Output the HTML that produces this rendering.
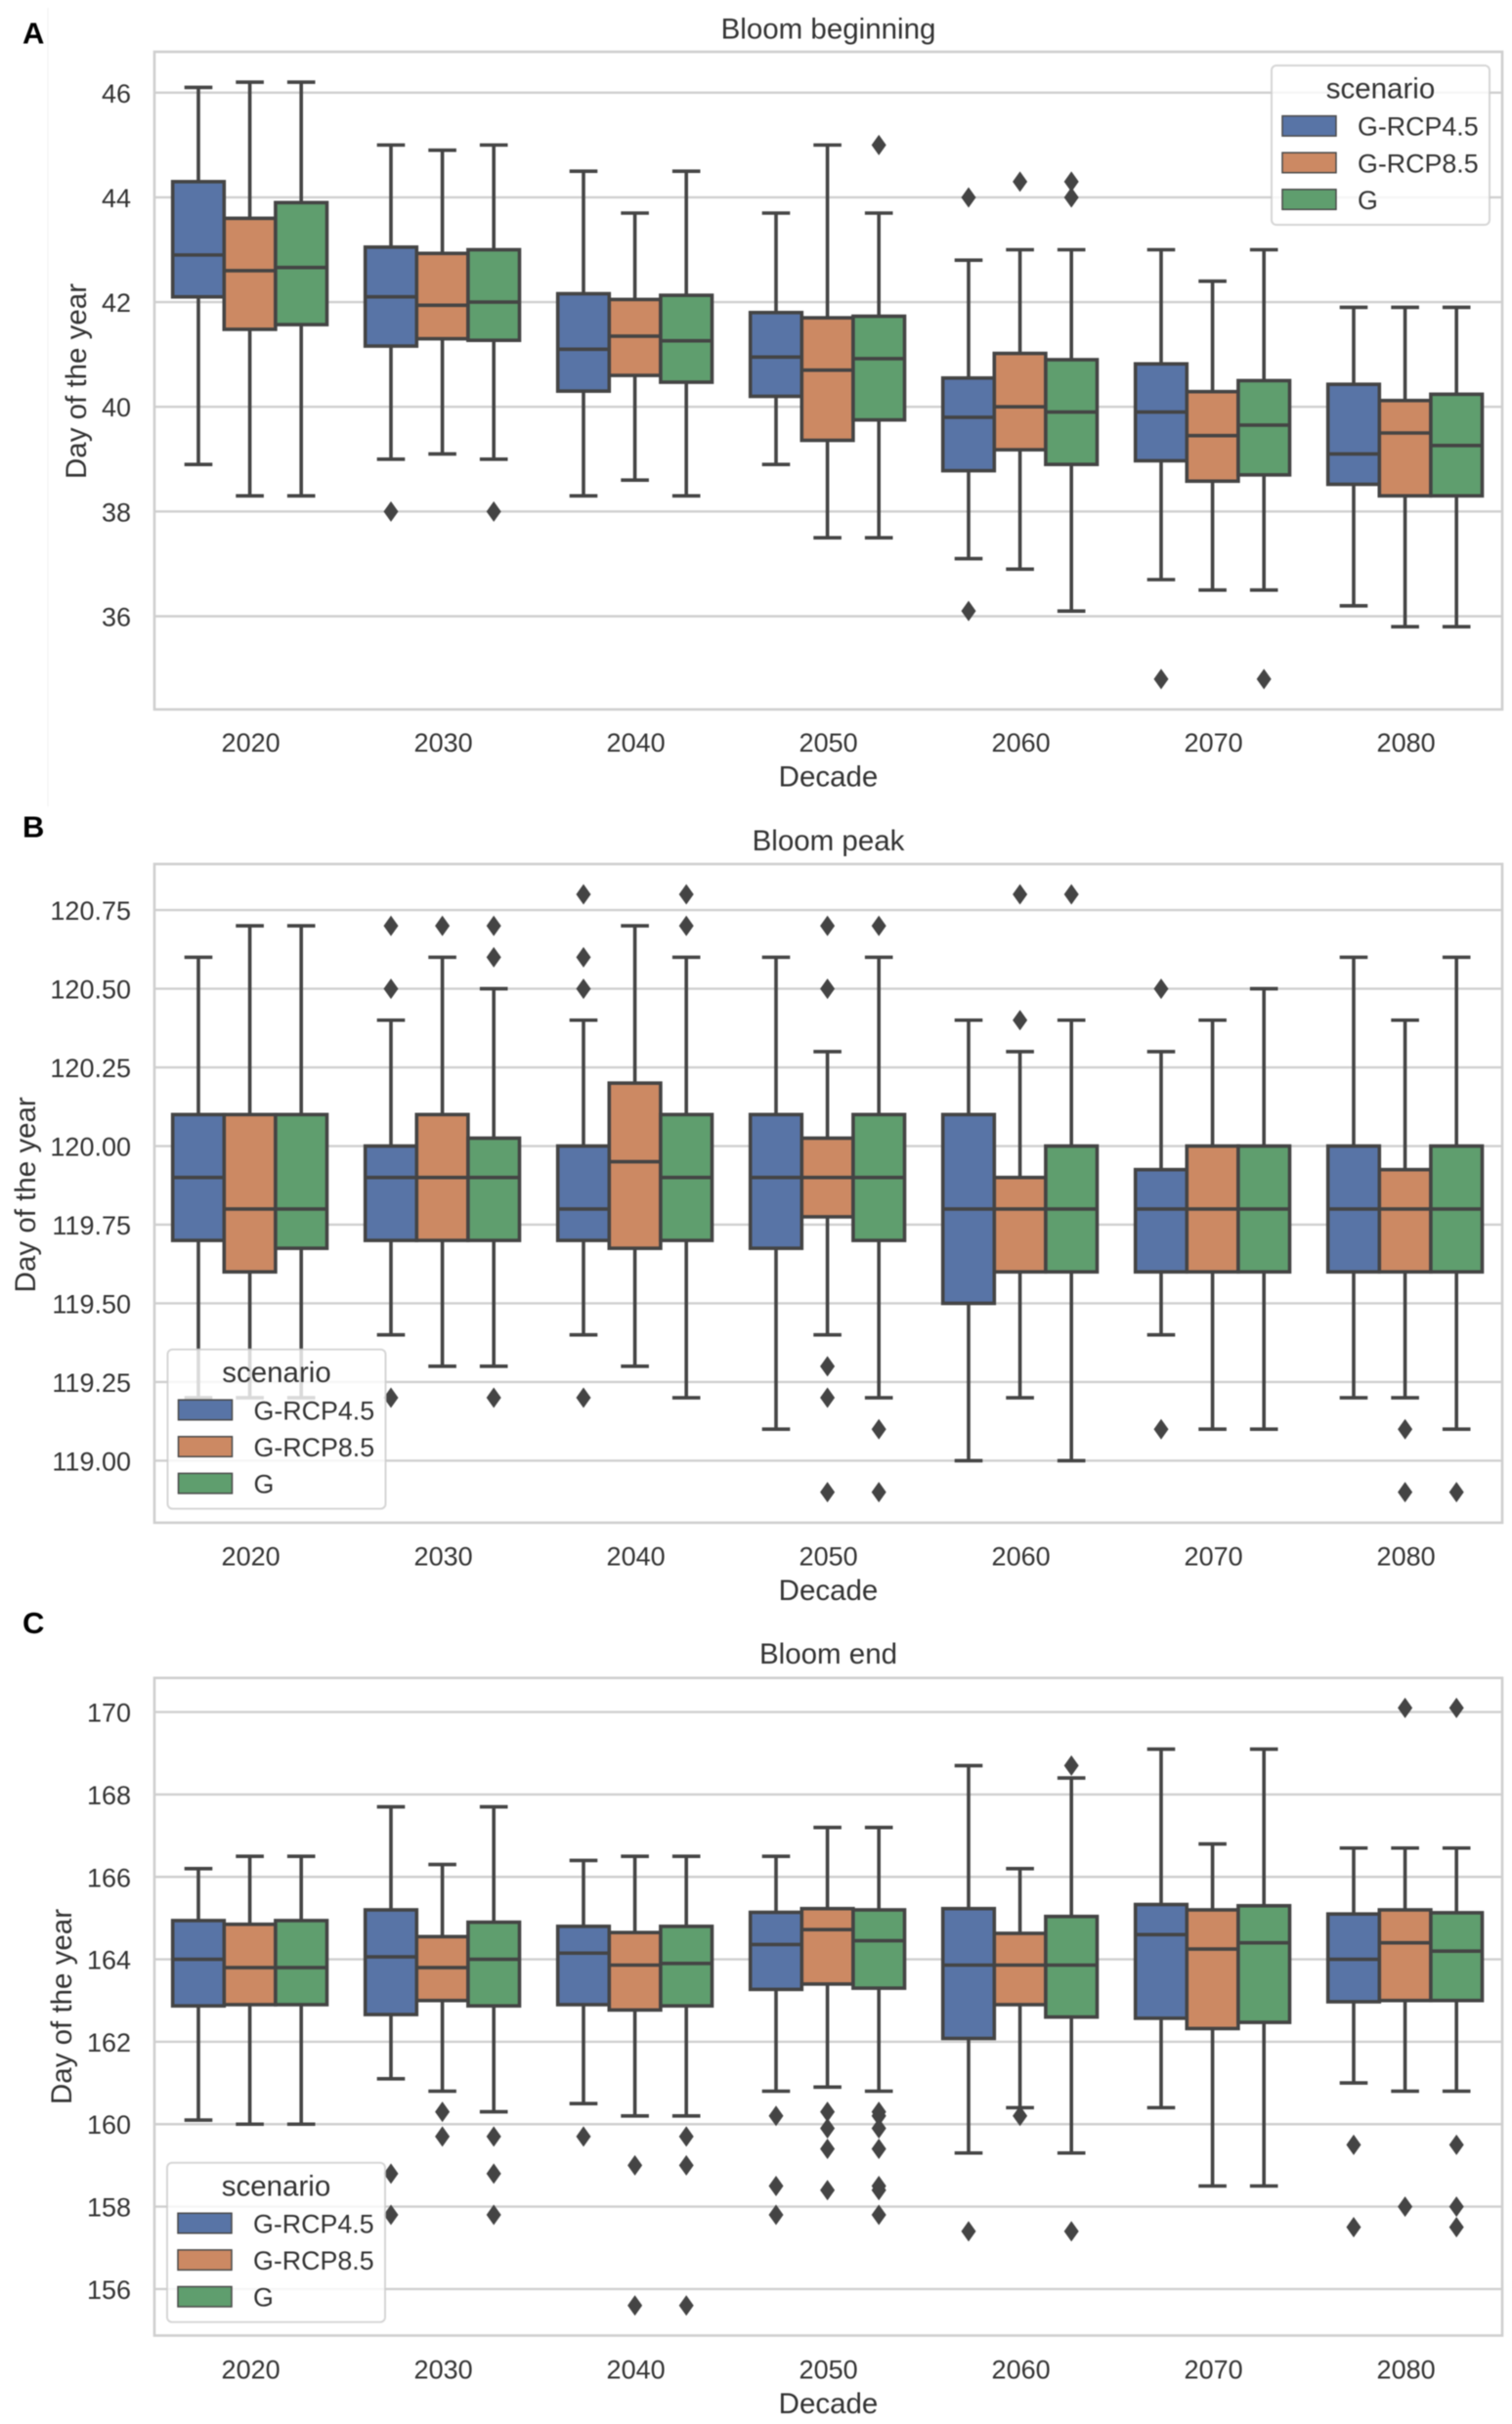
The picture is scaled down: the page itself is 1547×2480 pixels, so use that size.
<!DOCTYPE html>
<html lang="en">
<head>
<meta charset="utf-8">
<title>Bloom phenology box plots</title>
<style>
html,body{margin:0;padding:0;background:#fff;}
svg{display:block;filter:blur(0.55px);}
text{font-family:"Liberation Sans",Arial,sans-serif;fill:#333;}
.title,.axis-label,.legend-title{font-size:29.5px;}
.tick{font-size:27px;}
.legend-text{font-size:26.8px;}
.panel-label{font-size:31px;font-weight:bold;fill:#000;}
</style>
</head>
<body>
<svg id="figure" xmlns="http://www.w3.org/2000/svg" width="1547" height="2480" viewBox="0 0 1547 2480">
  <rect x="0" y="0" width="1547" height="2480" fill="#fff"/>
  <line x1="49" y1="8" x2="49" y2="825" stroke="#f4f4f4" stroke-width="1.5"/>

  <g>
    <g id="marks-a"></g>
    <text class="panel-label" x="23" y="44.5">A</text>
    <text class="title" x="847.5" y="39.7" text-anchor="middle">Bloom beginning</text>
    <text class="axis-label" x="847.5" y="804.7" text-anchor="middle">Decade</text>
    <text class="axis-label" text-anchor="middle" transform="translate(88,390) rotate(-90)">Day of the year</text>
    <g transform="translate(1301,67)">
      <rect x="0" y="0" width="223" height="163" rx="5" fill="#fff" fill-opacity="0.8" stroke="#ccc" stroke-opacity="0.8" stroke-width="2"/>
      <text class="legend-title" x="111.5" y="33.6" text-anchor="middle">scenario</text>
      <rect x="11" y="51.6" width="55" height="20.5" fill="#5874a6" stroke="#4a4a4a" stroke-width="1.5"/>
      <text class="legend-text" x="88" y="71.7">G-RCP4.5</text>
      <rect x="11" y="89.2" width="55" height="20.5" fill="#cc8963" stroke="#4a4a4a" stroke-width="1.5"/>
      <text class="legend-text" x="88" y="109.3">G-RCP8.5</text>
      <rect x="11" y="126.8" width="55" height="20.5" fill="#5f9e6e" stroke="#4a4a4a" stroke-width="1.5"/>
      <text class="legend-text" x="88" y="146.9">G</text>
    </g>
  </g>

  <g>
    <g id="marks-b"></g>
    <text class="panel-label" x="23" y="856.5">B</text>
    <text class="title" x="847.5" y="870.2" text-anchor="middle">Bloom peak</text>
    <text class="axis-label" x="847.5" y="1636.8" text-anchor="middle">Decade</text>
    <text class="axis-label" text-anchor="middle" transform="translate(36,1222.3) rotate(-90)">Day of the year</text>
    <g transform="translate(171.5,1380.6)">
      <rect x="0" y="0" width="223" height="163" rx="5" fill="#fff" fill-opacity="0.8" stroke="#ccc" stroke-opacity="0.8" stroke-width="2"/>
      <text class="legend-title" x="111.5" y="33.6" text-anchor="middle">scenario</text>
      <rect x="11" y="51.6" width="55" height="20.5" fill="#5874a6" stroke="#4a4a4a" stroke-width="1.5"/>
      <text class="legend-text" x="88" y="71.7">G-RCP4.5</text>
      <rect x="11" y="89.2" width="55" height="20.5" fill="#cc8963" stroke="#4a4a4a" stroke-width="1.5"/>
      <text class="legend-text" x="88" y="109.3">G-RCP8.5</text>
      <rect x="11" y="126.8" width="55" height="20.5" fill="#5f9e6e" stroke="#4a4a4a" stroke-width="1.5"/>
      <text class="legend-text" x="88" y="146.9">G</text>
    </g>
  </g>

  <g>
    <g id="marks-c"></g>
    <text class="panel-label" x="23" y="1671">C</text>
    <text class="title" x="847.5" y="1701.9" text-anchor="middle">Bloom end</text>
    <text class="axis-label" x="847.5" y="2468.9" text-anchor="middle">Decade</text>
    <text class="axis-label" text-anchor="middle" transform="translate(73,2053) rotate(-90)">Day of the year</text>
    <g transform="translate(171,2212.7)">
      <rect x="0" y="0" width="223" height="163" rx="5" fill="#fff" fill-opacity="0.8" stroke="#ccc" stroke-opacity="0.8" stroke-width="2"/>
      <text class="legend-title" x="111.5" y="33.6" text-anchor="middle">scenario</text>
      <rect x="11" y="51.6" width="55" height="20.5" fill="#5874a6" stroke="#4a4a4a" stroke-width="1.5"/>
      <text class="legend-text" x="88" y="71.7">G-RCP4.5</text>
      <rect x="11" y="89.2" width="55" height="20.5" fill="#cc8963" stroke="#4a4a4a" stroke-width="1.5"/>
      <text class="legend-text" x="88" y="109.3">G-RCP8.5</text>
      <rect x="11" y="126.8" width="55" height="20.5" fill="#5f9e6e" stroke="#4a4a4a" stroke-width="1.5"/>
      <text class="legend-text" x="88" y="146.9">G</text>
    </g>
  </g>
</svg>

<script>
// Categories
const decades = ["2020","2030","2040","2050","2060","2070","2080"];
const scenarios = ["g-rcp45","g-rcp85","g"];

// Tick values
const beginTicks = [36,38,40,42,44,46];
const peakTicks = [119,119.25,119.5,119.75,120,120.25,120.5,120.75];
const endTicks = [156,158,160,162,164,166,168,170];

// Box statistics per decade: [lower whisker, q1, median, q3, upper whisker]
const beginRcp45 = [[38.9,42.1,42.9,44.3,46.1],[39,41.16,42.1,43.05,45],[38.3,40.3,41.1,42.16,44.5],[38.9,40.2,40.95,41.8,43.7],[37.1,38.78,39.8,40.55,42.8],[36.7,38.97,39.9,40.82,43],[36.2,38.52,39.1,40.43,41.9]];
const beginRcp85 = [[38.3,41.48,42.6,43.6,46.2],[39.1,41.3,41.94,42.93,44.9],[38.6,40.6,41.35,42.05,43.7],[37.5,39.36,40.7,41.7,45],[36.9,39.18,40,41.02,43],[36.5,38.58,39.45,40.29,42.4],[35.8,38.3,39.5,40.12,41.9]];
const beginG = [[38.3,41.57,42.66,43.9,46.2],[39,41.27,42,43,45],[38.3,40.47,41.26,42.13,44.5],[37.5,39.75,40.92,41.73,43.7],[36.1,38.9,39.9,40.9,43],[36.5,38.7,39.65,40.5,43],[35.8,38.3,39.26,40.24,41.9]];

const peakRcp45 = [[119.2,119.7,119.9,120.1,120.6],[119.4,119.7,119.9,120,120.4],[119.4,119.7,119.8,120,120.4],[119.1,119.675,119.9,120.1,120.6],[119,119.5,119.8,120.1,120.4],[119.4,119.6,119.8,119.925,120.3],[119.2,119.6,119.8,120,120.6]];
const peakRcp85 = [[119.2,119.6,119.8,120.1,120.7],[119.3,119.7,119.9,120.1,120.6],[119.3,119.675,119.95,120.2,120.7],[119.4,119.775,119.9,120.025,120.3],[119.2,119.6,119.8,119.9,120.3],[119.1,119.6,119.8,120,120.4],[119.2,119.6,119.8,119.925,120.4]];
const peakG = [[119.2,119.675,119.8,120.1,120.7],[119.3,119.7,119.9,120.025,120.5],[119.2,119.7,119.9,120.1,120.6],[119.2,119.7,119.9,120.1,120.6],[119,119.6,119.8,120,120.4],[119.1,119.6,119.8,120,120.5],[119.1,119.6,119.8,120,120.6]];

const endRcp45 = [[160.1,162.87,164,164.94,166.2],[161.1,162.66,164.06,165.2,167.7],[160.5,162.9,164.15,164.8,166.4],[160.8,163.27,164.36,165.14,166.5],[159.3,162.08,163.86,165.23,168.7],[160.4,162.57,164.6,165.33,169.1],[161,162.97,164,165.1,166.7]];
const endRcp85 = [[160,162.9,163.8,164.85,166.5],[160.8,163,163.8,164.55,166.3],[160.2,162.77,163.86,164.65,166.5],[160.9,163.4,164.72,165.23,167.2],[160.4,162.9,163.86,164.63,166.2],[158.5,162.32,164.25,165.2,166.8],[160.8,163,164.4,165.2,166.7]];
const endG = [[160,162.9,163.8,164.94,166.5],[160.3,162.87,164,164.9,167.7],[160.2,162.87,163.9,164.8,166.5],[160.8,163.3,164.45,165.2,167.2],[159.3,162.6,163.86,165.04,168.4],[158.5,162.47,164.4,165.3,169.1],[160.8,163,164.2,165.13,166.7]];

// Outliers per decade
const beginRcp45Out = [[],[38],[],[],[44,36.1],[34.8],[]];
const beginRcp85Out = [[],[],[],[],[44.3],[],[]];
const beginGOut = [[],[38],[],[45],[44.3,44],[34.8],[]];

const peakRcp45Out = [[],[120.7,120.5,119.2],[120.8,120.6,120.5,119.2],[],[],[120.5,119.1],[]];
const peakRcp85Out = [[],[120.7],[],[120.7,120.5,119.3,119.2,118.9],[120.8,120.4],[],[119.1,118.9]];
const peakGOut = [[],[120.7,120.6,119.2],[120.8,120.7],[120.7,119.1,118.9],[120.8],[],[118.9]];

const endRcp45Out = [[],[158.8,157.8],[159.7],[160.2,158.5,157.8],[157.4],[],[159.5,157.5]];
const endRcp85Out = [[],[160.3,159.7],[159,155.6],[160.3,159.9,159.4,158.4],[160.2],[],[170.1,158]];
const endGOut = [[],[159.7,158.8,157.8],[159.7,159,155.6],[160.3,160.2,159.9,159.4,158.5,158.4,157.8],[168.7,157.4],[],[170.1,159.5,158,157.5]];

const SVG_NS = "http://www.w3.org/2000/svg";
const fills = ["#5874a6","#cc8963","#5f9e6e"];
const INK = "#444444";
const GRID = "#cfcfcf";
const LEFT = 158, RIGHT = 1537;
const CAT0 = 255.6, CAT_STEP = 197, HUE_STEP = 52.6;

function mk(parent, tag, attrs, txt) {
  const el = document.createElementNS(SVG_NS, tag);
  for (const k in attrs) el.setAttribute(k, attrs[k]);
  if (txt !== undefined) el.textContent = txt;
  parent.appendChild(el);
  return el;
}

function drawPanel(cfg) {
  const root = document.getElementById(cfg.id);
  // y axis: linear through two reference ticks
  const yScale = (cfg.refPx[1] - cfg.refPx[0]) / (cfg.refVal[1] - cfg.refVal[0]);
  const y = v => cfg.refPx[0] + (v - cfg.refVal[0]) * yScale;
  const x = (d, s) => CAT0 + CAT_STEP * d + (s - 1) * HUE_STEP;

  cfg.ticks.forEach(t => {
    const g = mk(root, "line", {x1: LEFT, x2: RIGHT, y1: y(t), y2: y(t), stroke: GRID, "stroke-width": 2.4});
    
    
    const lab = mk(root, "text", {class: "tick", x: 134, y: y(t) + 10, "text-anchor": "end"}, t.toFixed(cfg.decimals));
    
    
  });

  decades.forEach((dec, d) => {
    const lab = mk(root, "text", {class: "tick", x: CAT0 + CAT_STEP * d + 1, y: cfg.xTickY, "text-anchor": "middle"}, dec);
    
    

    const group = mk(root, "g", {});
    
    

    cfg.series.forEach((rows, s) => {
      const [wl, q1, med, q3, wh] = rows[d];
      const cx = x(d, s);
      const lineAttrs = {stroke: INK, "stroke-width": 3.6, fill: "none"};

      const whiskUp = mk(group, "line", Object.assign({x1: cx, x2: cx, y1: y(q3), y2: y(wh)}, lineAttrs));
      
      
      const whiskLo = mk(group, "line", Object.assign({x1: cx, x2: cx, y1: y(q1), y2: y(wl)}, lineAttrs));
      
      
      const capUp = mk(group, "line", Object.assign({x1: cx - 14.3, x2: cx + 14.3, y1: y(wh), y2: y(wh)}, lineAttrs));
      
      
      const capLo = mk(group, "line", Object.assign({x1: cx - 14.3, x2: cx + 14.3, y1: y(wl), y2: y(wl)}, lineAttrs));
      
      

      const box = mk(group, "rect", {x: cx - HUE_STEP / 2, y: y(q3), width: HUE_STEP, height: y(q1) - y(q3), fill: fills[s], stroke: INK, "stroke-width": 3.6});
      
      
      const median = mk(group, "line", Object.assign({x1: cx - HUE_STEP / 2, x2: cx + HUE_STEP / 2, y1: y(med), y2: y(med)}, lineAttrs));
      
      

      cfg.outliers[s][d].forEach(v => {
        const py = y(v);
        const pts = [[cx, py - 10.5], [cx + 7.5, py], [cx, py + 10.5], [cx - 7.5, py]].map(p => p.join(",")).join(" ");
        const flier = mk(group, "polygon", {points: pts, fill: INK});
        
        
      });
    });
  });

  const frame = mk(root, "rect", {x: LEFT, y: cfg.top, width: RIGHT - LEFT, height: cfg.bottom - cfg.top, fill: "none", stroke: GRID, "stroke-width": 2.6});
  
  
}

drawPanel({id: "marks-a", top: 53, bottom: 725.8, xTickY: 769, decimals: 0,
  refVal: [46, 36], refPx: [94.8, 630.5], ticks: beginTicks,
  series: [beginRcp45, beginRcp85, beginG], outliers: [beginRcp45Out, beginRcp85Out, beginGOut]});
drawPanel({id: "marks-b", top: 884, bottom: 1557.9, xTickY: 1601.3, decimals: 2,
  refVal: [120.75, 119], refPx: [931.1, 1494.4], ticks: peakTicks,
  series: [peakRcp45, peakRcp85, peakG], outliers: [peakRcp45Out, peakRcp85Out, peakGOut]});
drawPanel({id: "marks-c", top: 1716.7, bottom: 2389.5, xTickY: 2433.5, decimals: 0,
  refVal: [170, 156], refPx: [1751.6, 2341.9], ticks: endTicks,
  series: [endRcp45, endRcp85, endG], outliers: [endRcp45Out, endRcp85Out, endGOut]});
</script>
</body>
</html>
